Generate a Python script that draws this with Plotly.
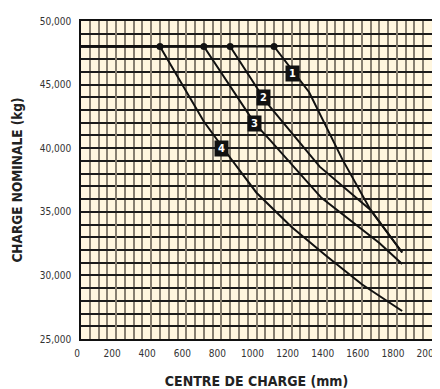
import plotly.graph_objects as go

# Data
series_names = ["1", "2", "3", "4"]
s1_x = [0, 1100, 1300, 1490, 1650, 1830]
s1_y = [48000, 48000, 44400, 39100, 35150, 31800]
s2_x = [0, 850, 1040, 1080, 1360, 1650, 1830]
s2_y = [48000, 48000, 43950, 43200, 38550, 35150, 31800]
s3_x = [0, 700, 990, 1080, 1370, 1550, 1700, 1830]
s3_y = [48000, 48000, 41950, 40600, 36100, 34150, 32550, 30900]
s4_x = [0, 450, 700, 850, 1000, 1200, 1400, 1600, 1830]
s4_y = [48000, 48000, 42100, 39250, 36500, 33800, 31500, 29300, 27200]
knee_x = [1100, 850, 700, 450]
knee_y = [48000, 48000, 48000, 48000]
label_x = [1205, 1040, 990, 800]
label_y = [45900, 43950, 41950, 40000]

x_ticks = list(range(0, 2001, 200))
y_ticks = [25000, 30000, 35000, 40000, 45000, 50000]
y_ticklabels = ["25,000", "30,000", "35,000", "40,000", "45,000", "50,000"]

FONT = "DejaVu Sans Condensed, Liberation Sans Narrow, Arial Narrow, Liberation Sans, sans-serif"

fig = go.Figure()
for xs, ys in [(s1_x, s1_y), (s2_x, s2_y), (s3_x, s3_y), (s4_x, s4_y)]:
    fig.add_trace(go.Scatter(x=xs, y=ys, mode="lines",
                             line=dict(color="#111111", width=2),
                             hoverinfo="skip", showlegend=False))
fig.add_trace(go.Scatter(x=knee_x, y=knee_y, mode="markers",
                         marker=dict(color="#111111", size=7),
                         showlegend=False, hoverinfo="skip"))

for name, lx, ly in zip(series_names, label_x, label_y):
    fig.add_annotation(x=lx, y=ly, text="<b>" + name + "</b>", showarrow=False,
                       bgcolor="#111111", font=dict(color="white", size=11, family=FONT),
                       borderpad=1, width=11, height=13)

fig.update_xaxes(range=[0, 2000], tickvals=x_ticks, showgrid=True,
                 gridcolor="#867e70", gridwidth=2,
                 minor=dict(dtick=50, showgrid=True, gridcolor="#867e70", gridwidth=2),
                 showline=True, linecolor="#111111", linewidth=1.5, mirror=True,
                 ticks="", zeroline=False, automargin=False,
                 ticklabeloverflow="allow", ticklabelstandoff=4, ticklabelshift=-4,
                 tickfont=dict(family=FONT, size=10, color="#333333"),
                 title=dict(text="<b>CENTRE DE CHARGE (mm)</b>", standoff=18,
                            font=dict(family=FONT, size=14, color="#222222")))
fig.update_yaxes(range=[25000, 50000], tickvals=y_ticks, ticktext=y_ticklabels,
                 showgrid=True, gridcolor="#1a1a1a", gridwidth=1.5,
                 minor=dict(dtick=1000, showgrid=True, gridcolor="#1a1a1a", gridwidth=1.5),
                 showline=True, linecolor="#111111", linewidth=1.5, mirror=True,
                 ticks="", zeroline=False, ticklabelstandoff=6, automargin=False,
                 ticklabeloverflow="allow",
                 tickfont=dict(family=FONT, size=10, color="#333333"),
                 title=dict(text="<b>CHARGE NOMINALE (kg)</b>", standoff=14,
                            font=dict(family=FONT, size=13.5, color="#222222")))

# the page adds an 8px body margin; sizes are chosen so the plot lands where the reference has it
fig.update_layout(width=440, height=381,
                  margin=dict(l=73, r=16, t=13, b=50),
                  plot_bgcolor="#fff6df", paper_bgcolor="white",
                  showlegend=False)

fig.write_html("out.html")
